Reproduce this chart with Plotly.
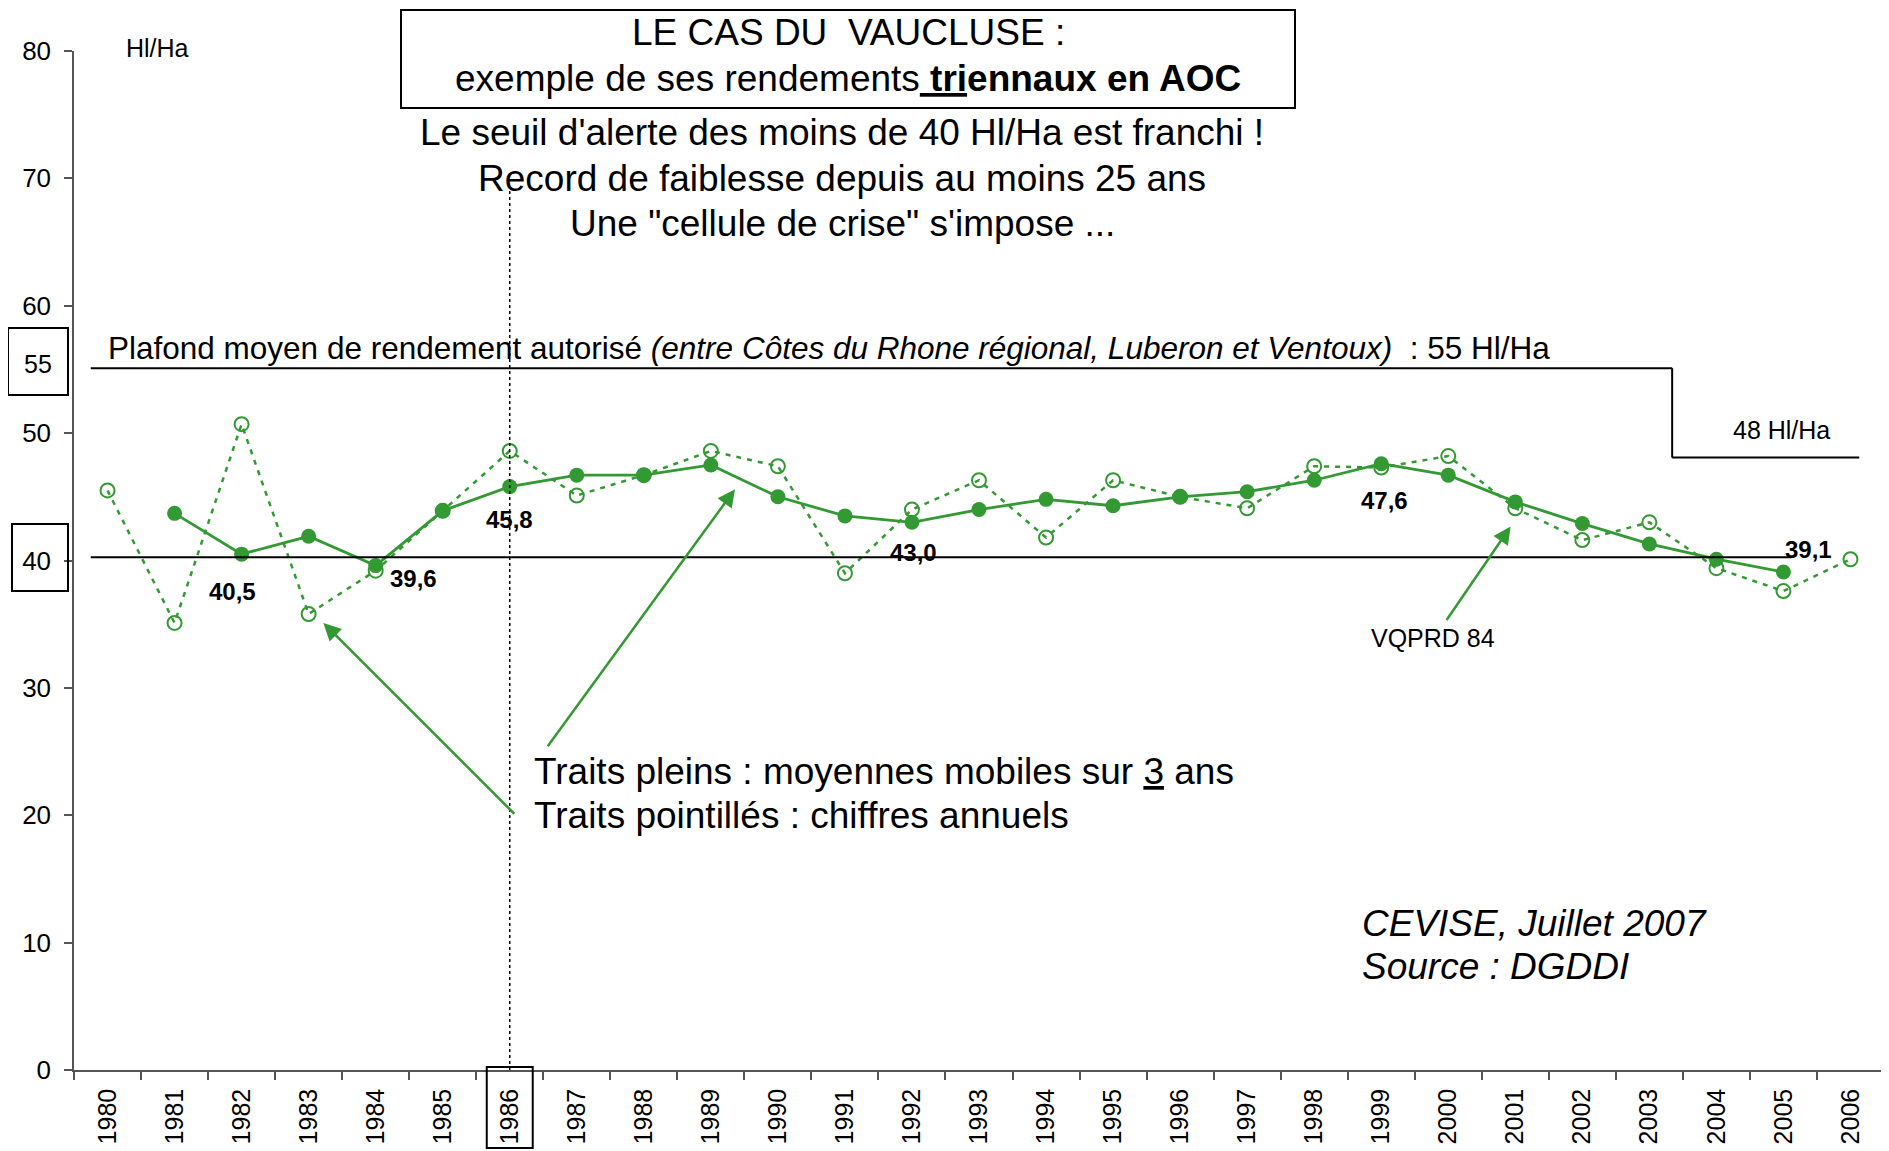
import plotly.graph_objects as go

# ---------------- data ----------------
years = ["1980", "1981", "1982", "1983", "1984", "1985", "1986", "1987", "1988",
         "1989", "1990", "1991", "1992", "1993", "1994", "1995", "1996", "1997",
         "1998", "1999", "2000", "2001", "2002", "2003", "2004", "2005", "2006"]

annual = [45.5, 35.1, 50.7, 35.8, 39.2, 43.9, 48.6, 45.1, 46.7, 48.6, 47.4, 39.0,
          44.0, 46.3, 41.8, 46.3, 45.0, 44.1, 47.4, 47.3, 48.2, 44.1, 41.6, 43.0,
          39.4, 37.6, 40.1]

ma_years = ["1981", "1982", "1983", "1984", "1985", "1986", "1987", "1988", "1989",
            "1990", "1991", "1992", "1993", "1994", "1995", "1996", "1997", "1998",
            "1999", "2000", "2001", "2002", "2003", "2004", "2005"]
moving = [43.7, 40.5, 41.9, 39.6, 43.9, 45.8, 46.7, 46.7, 47.5, 45.0, 43.5, 43.0,
          44.0, 44.8, 44.3, 45.0, 45.4, 46.3, 47.6, 46.7, 44.6, 42.9, 41.3, 40.1, 39.1]

label_years = ["1982", "1984", "1986", "1992", "1999", "2005"]
label_values = [40.5, 39.6, 45.8, 43.0, 47.6, 39.1]

y_ticks = [0, 10, 20, 30, 40, 50, 60, 70, 80]
ceiling_high = 55
ceiling_low = 48
alert_level = 40
highlight_year = "1986"

# ---------------- styling / layout ----------------
GREEN = "#339933"
FONT = "Arial, Liberation Sans, sans-serif"
OFF = 8                      # page body margin
W, H = 1881, 1143
ML, MR, MT, MB = 66, 5, 43, 81
PW, PH = W - ML - MR, H - MT - MB

def px_x(px):
    return (px - OFF - ML) / PW

def px_y(py):
    return (H - MB - (py - OFF)) / PH

idx = {y: i for i, y in enumerate(years)}

fig = go.Figure()
fig.add_trace(go.Scatter(
    x=years, y=annual, mode="lines+markers",
    line=dict(color=GREEN, width=2.5, dash="5px,6px"),
    marker=dict(symbol="circle-open", size=14, color=GREEN, line=dict(width=2, color=GREEN)),
    hoverinfo="x+y"))
fig.add_trace(go.Scatter(
    x=ma_years, y=moving, mode="lines+markers",
    line=dict(color=GREEN, width=2.8),
    marker=dict(symbol="circle", size=15, color=GREEN),
    hoverinfo="x+y"))

shapes = []
blk = dict(color="black", width=2)
step_x = 23.34
shapes.append(dict(type="line", xref="x", yref="y", x0=-0.25, x1=step_x,
                   y0=ceiling_high + 0.1, y1=ceiling_high + 0.1, line=blk))
shapes.append(dict(type="line", xref="x", yref="y", x0=step_x, x1=step_x,
                   y0=ceiling_high + 0.1, y1=ceiling_low + 0.08, line=blk))
shapes.append(dict(type="line", xref="x", yref="y", x0=step_x, x1=26.13,
                   y0=ceiling_low + 0.08, y1=ceiling_low + 0.08, line=blk))
shapes.append(dict(type="line", xref="x", yref="y", x0=-0.25, x1=25.12,
                   y0=alert_level + 0.25, y1=alert_level + 0.25, line=blk))
shapes.append(dict(type="line", xref="x", yref="y", x0=idx[highlight_year], x1=idx[highlight_year],
                   y0=0, y1=69.3, line=dict(color="black", width=1.5, dash="dot")))
box = dict(color="black", width=2)
shapes.append(dict(type="rect", xref="paper", yref="paper", x0=px_x(8), x1=px_x(68),
                   y0=px_y(395), y1=px_y(328), line=box))
shapes.append(dict(type="rect", xref="paper", yref="paper", x0=px_x(12), x1=px_x(68),
                   y0=px_y(591), y1=px_y(524), line=box))
hx = (idx[highlight_year] + 0.5) / len(years)
shapes.append(dict(type="rect", xref="paper", yref="paper", x0=hx - 0.0127, x1=hx + 0.0127,
                   y0=px_y(1148), y1=px_y(1067), line=box))
shapes.append(dict(type="rect", xref="paper", yref="paper", x0=px_x(401), x1=px_x(1295),
                   y0=px_y(108), y1=px_y(10), line=box))

ann = []
def txt(x, y, text, size, xanchor="center", xref="x", yref="y", **kw):
    ann.append(dict(x=x, y=y, xref=xref, yref=yref, text=text, showarrow=False,
                    xanchor=xanchor, yanchor="middle",
                    font=dict(family=FONT, size=size, color="black"), **kw))

txt(px_x(157), px_y(48), "Hl/Ha", 25, xref="paper", yref="paper")
txt(px_x(848), px_y(32.5), "LE CAS DU  VAUCLUSE :", 37, xref="paper", yref="paper")
txt(px_x(848), px_y(78.3), "exemple de ses rendements<u><b> tri</b></u><b>ennaux en AOC</b>", 37,
    xref="paper", yref="paper")
txt(10.96, 73.61, "Le seuil d'alerte des moins de 40 Hl/Ha est franchi !", 37)
txt(10.96, 70.02, "Record de faiblesse depuis au moins 25 ans", 37)
txt(10.96, 66.43, "Une \"cellule de crise\" s'impose ...", 37)
txt(-0.02, 56.7, "Plafond moyen de rendement autorisé <i>(entre Côtes du Rhone régional, Luberon et Ventoux)</i>  : 55 Hl/Ha",
    31.5, xanchor="left")
txt(24.97, 50.25, "48 Hl/Ha", 25)
txt(19.77, 33.9, "VQPRD 84", 25)
txt(6.33, 23.45, "Traits pleins : moyennes mobiles sur <u>3</u> ans", 37, xanchor="left")
txt(6.33, 20.0, "Traits pointillés : chiffres annuels", 37, xanchor="left")
txt(18.68, 11.5, "<i>CEVISE, Juillet 2007</i>", 37, xanchor="left")
txt(18.68, 8.1, "<i>Source : DGDDI</i>", 37, xanchor="left")
txt(px_x(38), 55.4, "55", 25, xref="paper")

label_dx = [-0.135, 0.57, -0.01, 0.03, 0.05, 0.38]
label_dy = [-2.93, -1.04, -2.61, -2.37, -2.89, 1.8]
for yr, v, dx, dy in zip(label_years, label_values, label_dx, label_dy):
    txt(idx[yr] + dx, v + dy, "<b>" + f"{v:.1f}".replace(".", ",") + "</b>", 24)

arrows = [((3.22, 35.1), (6.09, 20.0)),
          ((9.36, 45.6), (6.55, 25.3)),
          ((20.93, 42.67), (19.96, 35.21))]
for (hx_, hy_), (tx_, ty_) in arrows:
    ann.append(dict(x=hx_, y=hy_, ax=tx_, ay=ty_, xref="x", yref="y", axref="x", ayref="y",
                    text="", showarrow=True, arrowhead=2, arrowsize=1.4, arrowwidth=2.5,
                    arrowcolor=GREEN, standoff=0, startstandoff=0))

fig.update_layout(
    width=W, height=H, margin=dict(l=ML, r=MR, t=MT, b=MB),
    paper_bgcolor="white", plot_bgcolor="white", showlegend=False,
    font=dict(family=FONT, color="black"),
    shapes=shapes, annotations=ann,
    xaxis=dict(type="category", categoryorder="array", categoryarray=years,
               range=[-0.5, len(years) - 0.5], tickson="boundaries",
               ticks="outside", ticklen=8, tickcolor="#555", tickwidth=1.5,
               showline=True, linecolor="#555", linewidth=1.5,
               tickangle=-90, tickfont=dict(size=25, family=FONT, color="black"),
               showgrid=False, zeroline=False, ticklabelstandoff=7),
    yaxis=dict(range=[0, 80], tickvals=y_ticks, ticks="outside", ticklen=8,
               tickcolor="#555", tickwidth=1.5, showline=True, linecolor="#555",
               linewidth=1.5, tickfont=dict(size=26, family=FONT, color="black"),
               showgrid=False, zeroline=False, ticklabelstandoff=8),
)

fig.write_html("out.html")
